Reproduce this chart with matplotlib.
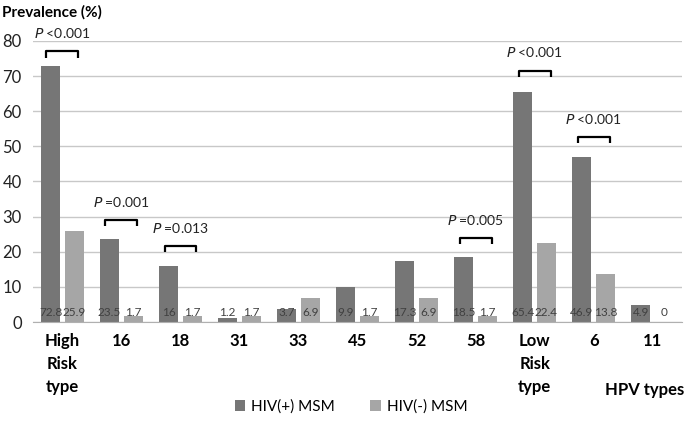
import matplotlib.pyplot as plt
import numpy as np

plt.rcParams['font.family'] = ['Lato', 'DejaVu Sans']

# Data
categories = ['High\nRisk\ntype', '16', '18', '31', '33', '45', '52', '58', 'Low\nRisk\ntype', '6', '11']
hiv_pos = [72.8, 23.5, 16, 1.2, 3.7, 9.9, 17.3, 18.5, 65.4, 46.9, 4.9]
hiv_neg = [25.9, 1.7, 1.7, 1.7, 6.9, 1.7, 6.9, 1.7, 22.4, 13.8, 0]
pos_labels = ['72.8', '23.5', '16', '1.2', '3.7', '9.9', '17.3', '18.5', '65.4', '46.9', '4.9']
neg_labels = ['25.9', '1.7', '1.7', '1.7', '6.9', '1.7', '6.9', '1.7', '22.4', '13.8', '0']

# significance annotations: category index, bracket height, text
sig_idx = [0, 1, 2, 7, 8, 9]
sig_height = [77, 29, 21.6, 23.9, 71.5, 52.7]
sig_text = ['<0.001', '=0.001', '=0.013', '=0.005', '<0.001', '<0.001']

dark = '#767676'
light = '#a6a6a6'

fig = plt.figure(figsize=(6.85, 4.26), dpi=100)
ax = fig.add_axes([0.048, 0.244, 0.948, 0.66])

x = np.arange(len(categories))
w = 0.32
off = 0.2
ax.bar(x - off, hiv_pos, w, color=dark, label='HIV(+) MSM', zorder=2)
ax.bar(x + off, hiv_neg, w, color=light, label='HIV(-) MSM', zorder=2)

for i in range(len(categories)):
    ax.text(x[i] - off, 2.8, pos_labels[i], ha='center', va='center', fontsize=8.5, color='#404040', zorder=3)
    ax.text(x[i] + off, 2.8, neg_labels[i], ha='center', va='center', fontsize=8.5, color='#404040', zorder=3)

# brackets
for i, h, t in zip(sig_idx, sig_height, sig_text):
    xl, xr = x[i] - 0.27, x[i] + 0.27
    ax.plot([xl, xl, xr, xr], [h - 1.8, h, h, h - 1.8], color='black', lw=1.6,
            solid_capstyle='butt', clip_on=False, zorder=4)
    ax.text(x[i], h + 5.2, r'$\it{P}$ ' + t, ha='center', va='center', fontsize=10,
            color='#222222', clip_on=False)

ax.set_xlim(-0.5, len(categories) - 0.5)
ax.set_ylim(0, 80)
ax.set_yticks(range(0, 81, 10))
ax.yaxis.grid(True, color='#c8c8c8', lw=1, zorder=0)
ax.set_axisbelow(True)
for s in ['top', 'right', 'left']:
    ax.spines[s].set_visible(False)
ax.spines['bottom'].set_color('#b0b0b0')
ax.tick_params(axis='y', length=0, labelsize=12, colors='#222222', pad=8)
ax.tick_params(axis='x', length=0, pad=8)
ax.set_xticks(x)
ax.set_xticklabels(categories, fontsize=12, fontweight='bold', va='top', linespacing=1.55)

fig.text(0.003, 0.972, 'Prevalence (%)', fontsize=11, fontweight='bold', ha='left', va='center')
fig.text(0.999, 0.085, 'HPV types', fontsize=12, fontweight='bold', ha='right', va='center')

ax.legend(loc='center', bbox_to_anchor=(0.49, -0.30), ncol=2, frameon=False, fontsize=11,
          handlelength=0.7, handleheight=0.7, handletextpad=0.4, columnspacing=2.3)

plt.savefig('out.png', dpi=100)
